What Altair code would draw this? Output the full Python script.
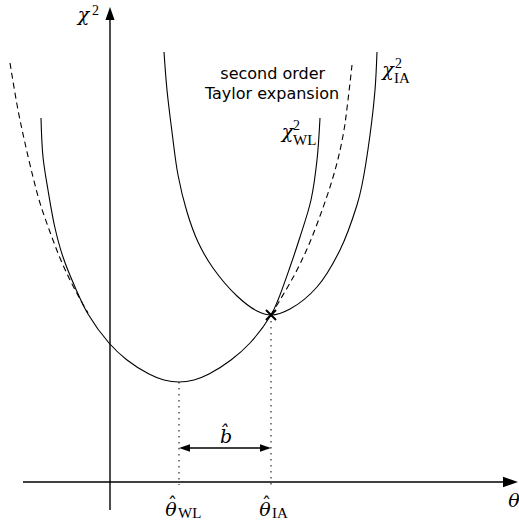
import altair as alt
import pandas as pd

# Schematic chi^2 curves, in arbitrary (theta, chi^2) units
wl_theta = [-69, -67, -62, -55, -47, -35, -22, -1, 17, 39, 54, 69,
            84, 99, 121, 140, 161, 168, 180, 190, 201, 207, 210]
wl_chi2 = [364, 325, 292, 254, 225, 195, 168, 139, 122, 108, 102, 100,
           102, 108, 122, 139, 167, 182, 215, 245, 282, 322, 364]

ia_theta = [54, 57, 62, 68, 77, 88, 103, 127, 147, 161,
            180, 207, 230, 247, 252, 260, 265, 267]
ia_chi2 = [430, 392, 350, 307, 270, 240, 214, 186, 171, 167,
           173, 195, 232, 277, 297, 347, 392, 430]

# second order Taylor expansion (visible parts, left and right of the WL curve)
taylor_left_theta = [-100, -92, -85, -77, -70, -60, -50, -40, -30, -22]
taylor_left_chi2 = [419, 372, 339, 305, 279, 250, 224, 202, 183, 169]
taylor_right_theta = [161, 170, 180, 190, 200, 210, 220, 228, 234, 238, 242]
taylor_right_chi2 = [167, 182, 199, 218, 240, 266, 295, 323, 352, 382, 417]

theta_wl, chi2_wl_min = 69, 100     # minimum of chi^2_WL
theta_ia, chi2_ia_min = 161, 167    # minimum of chi^2_IA
bias_level = 34                     # height of the b-hat arrow

x_axis_span = [-87, 408]
y_axis_span = [-28, 475]

xs = alt.Scale(domain=[-110, 409], nice=False, zero=False)
ys = alt.Scale(domain=[-43, 482], nice=False, zero=False)


def X(f="t"):
    return alt.X(f"{f}:Q", scale=xs, axis=None)


def Y(f="c"):
    return alt.Y(f"{f}:Q", scale=ys, axis=None)


def curve(ts, cs, seg=0):
    return pd.DataFrame({"t": ts, "c": cs, "seg": seg})


line_style = dict(color="black", strokeWidth=1.1, interpolate="catmull-rom")

wl = alt.Chart(curve(wl_theta, wl_chi2)).mark_line(**line_style).encode(x=X(), y=Y())
ia = alt.Chart(curve(ia_theta, ia_chi2)).mark_line(**line_style).encode(x=X(), y=Y())

taylor = alt.Chart(pd.concat([
    curve(taylor_left_theta, taylor_left_chi2, 0),
    curve(taylor_right_theta, taylor_right_chi2, 1),
])).mark_line(strokeDash=[6, 4], **line_style).encode(x=X(), y=Y(), detail="seg:N")

# coordinate axes
axes_df = pd.DataFrame({
    "t": [x_axis_span[0], 0], "t2": [x_axis_span[1] - 8, 0],
    "c": [0, y_axis_span[0]], "c2": [0, y_axis_span[1] - 8],
})
axes = alt.Chart(axes_df).mark_rule(color="black", strokeWidth=1.4).encode(
    x=X(), x2="t2:Q", y=Y(), y2="c2:Q"
)

# dotted drop lines from the minima
drops = alt.Chart(pd.DataFrame({
    "t": [theta_wl, theta_ia], "c": [chi2_wl_min, chi2_ia_min], "c2": [-3, -3],
})).mark_rule(color="black", strokeWidth=1, strokeDash=[1.5, 4.5]).encode(
    x=X(), y=Y(), y2="c2:Q"
)

# bias arrow shaft
bias = alt.Chart(pd.DataFrame({
    "t": [theta_wl + 3], "t2": [theta_ia - 3], "c": [bias_level],
})).mark_rule(color="black", strokeWidth=1.3).encode(x=X(), x2="t2:Q", y=Y())

# arrowheads (centre of each head sits half a head-length behind the tip)
head = "M0,-1L0.7,1L-0.7,1Z"
heads_df = pd.DataFrame({
    "t": [x_axis_span[1] - 7.5, 0, theta_wl + 5.5, theta_ia - 5.5],
    "c": [0, y_axis_span[1] - 6.5, bias_level, bias_level],
    "ang": [90, 0, 270, 90],
    "sz": [225, 169, 121, 121],
})
heads = alt.Chart(heads_df).mark_point(
    shape=head, filled=True, color="black", opacity=1, strokeWidth=0
).encode(
    x=X(), y=Y(),
    angle=alt.Angle("ang:Q", scale=None),
    size=alt.Size("sz:Q", scale=None),
)

cross = alt.Chart(pd.DataFrame({"t": [theta_ia], "c": [chi2_ia_min]})).mark_point(
    shape="M-1,-1L1,1M1,-1L-1,1", filled=False, color="black",
    size=100, strokeWidth=2, opacity=1
).encode(x=X(), y=Y())


def labels(rows, **style):
    df = pd.DataFrame(rows, columns=["text", "t", "c"])
    return alt.Chart(df).mark_text(color="black", **style).encode(
        x=X(), y=Y(), text="text:N"
    )


serif = "DejaVu Serif"

math_main = labels([
    ["χ", -26.5, 461],
    ["θ", 404, -25],
    ["χ", 177.5, 344],
    ["χ", 278, 406],
    ["b\u0302", 116, 39],
    ["θ", 61, -34],
    ["θ", 155, -34],
], font=serif, fontStyle="italic", fontSize=19, align="center", baseline="alphabetic")

# circumflex accents over the estimator thetas
hats = labels([
    ["ˆ", 62.5, -29],
    ["ˆ", 156.5, -29],
], font=serif, fontSize=19, align="center", baseline="alphabetic")

sups = labels([
    ["2", -18, 467],
    ["2", 183, 352],
    ["2", 285, 414],
], font="Liberation Serif", fontSize=14, align="left", baseline="alphabetic")

subs = labels([
    ["WL", 183, 337],
    ["IA", 284, 399],
    ["WL", 68, -36],
    ["IA", 162, -36],
], font="Liberation Serif", fontSize=15, align="left", baseline="alphabetic")

words = labels([
    ["second order", 162.7, 403],
    ["Taylor expansion", 162, 382.7],
], font="DejaVu Sans", fontSize=16, align="center", baseline="alphabetic")

chart = alt.layer(
    drops, axes, bias, heads, taylor, wl, ia, cross,
    math_main, hats, sups, subs, words,
).properties(
    width=519, height=525, padding=0, autosize=alt.AutoSizeParams(type="none"),
    background="white",
).configure_view(stroke=None)

chart.save("out.html", embed_options={"renderer": "svg", "actions": False})
